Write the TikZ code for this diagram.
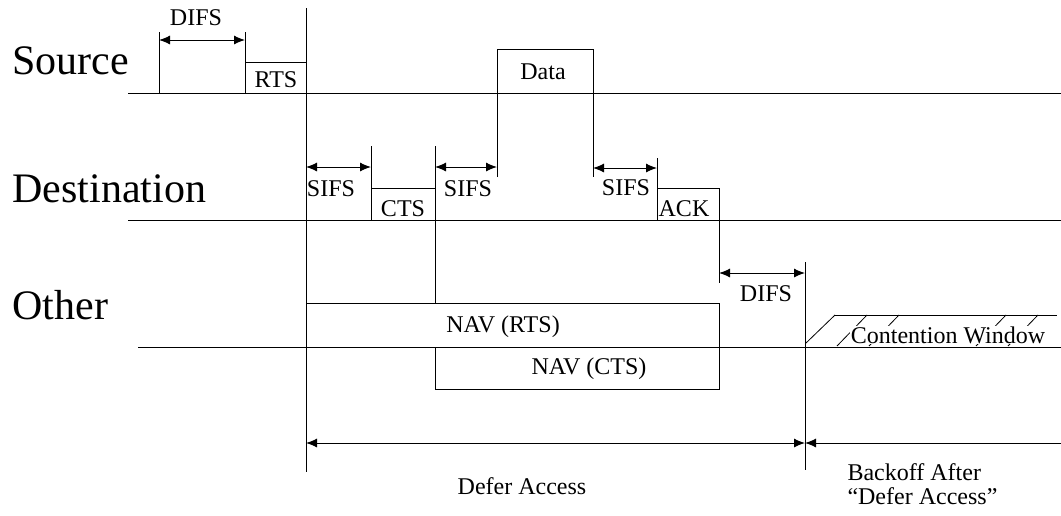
\documentclass[tikz,border=0pt]{standalone}
\usepackage{fontspec}
\setmainfont{Liberation Serif}
\usetikzlibrary{arrows.meta}

\begin{document}
\begin{tikzpicture}[
 x=1pt,y=-1pt,
 line width=1pt,
 station/.style={font=\fontsize{42}{42}\selectfont,anchor=west,inner sep=0pt},
 lbl/.style={font=\fontsize{24}{24}\selectfont,inner sep=1pt},
 span/.style={{Latex[length=11pt,width=9pt]}-{Latex[length=11pt,width=9pt]}},
 leftarr/.style={{Latex[length=11pt,width=9pt]}-},
 hatch/.style={line width=0.8pt}
]
\useasboundingbox (0,0) rectangle (1061,515);

% station names and time lines
\node[station] (src) at (12,61) {Source};
\node[station] (dst) at (12,189) {Destination};
\node[station] (oth) at (12,305) {Other};
\draw (128,93) -- (1061,93);
\draw (128,220) -- (1061,220);
\draw (138,347) -- (1061,347);

% source: DIFS, RTS, Data
\draw (159,93) -- (159,32);
\draw (245,32) -- (245,93);
\draw (245,62) -- (306,62);
\draw (306,8) -- (306,472);
\draw (497,177) -- (497,49) -- (593,49) -- (593,177);
\draw[span] (159,40) -- (245,40);
\node[lbl] (difs1) at (196,18) {DIFS};
\node[lbl] (rts) at (276,80) {RTS};
\node[lbl] (data) at (543,72) {Data};

% destination: CTS, ACK
\draw (371,146) -- (371,220);
\draw (371,188) -- (435,188);
\draw (435,146) -- (435,303);
\draw (657,158) -- (657,220);
\draw (657,188) -- (719,188) -- (719,283);
\draw (805,262) -- (805,470);
\draw[span] (306,167) -- (371,167);
\draw[span] (435,167) -- (497,167);
\draw[span] (593,168) -- (657,168);
\draw[span] (719,273) -- (805,273);
\node[lbl] (sifs1) at (331,189) {SIFS};
\node[lbl] (cts) at (403,209) {CTS};
\node[lbl] (sifs2) at (468,189) {SIFS};
\node[lbl] (sifs3) at (626,188) {SIFS};
\node[lbl] (ack) at (684,209) {ACK};
\node[lbl] (difs2) at (766,294) {DIFS};

% other: NAV and contention window
\draw (306,303) rectangle (719,347);
\draw (435,347) rectangle (719,389);
\node[lbl] (navrts) at (503,327) {NAV (RTS)};
\node[lbl] (navcts) at (589,369) {NAV (CTS)};
\draw (835,315) -- (1057,315);
\draw[hatch] (806,343) -- (835,315);
\foreach \t in {867,899,1006,1038}
 \draw[hatch] (\t,315) -- ++(-30,31);
\node[lbl,fill=white,inner sep=0.5pt] (cw) at (948,335) {Contention Window};

% defer / backoff
\draw[span] (306,443) -- (805,443);
\draw[leftarr] (805,443) -- (1061,443);
\node[lbl] (defer) at (522,486) {Defer Access};
\node[lbl,align=left,anchor=west] (backoff) at (846,484) {Backoff After\\“Defer Access”};
\end{tikzpicture}
\end{document}
